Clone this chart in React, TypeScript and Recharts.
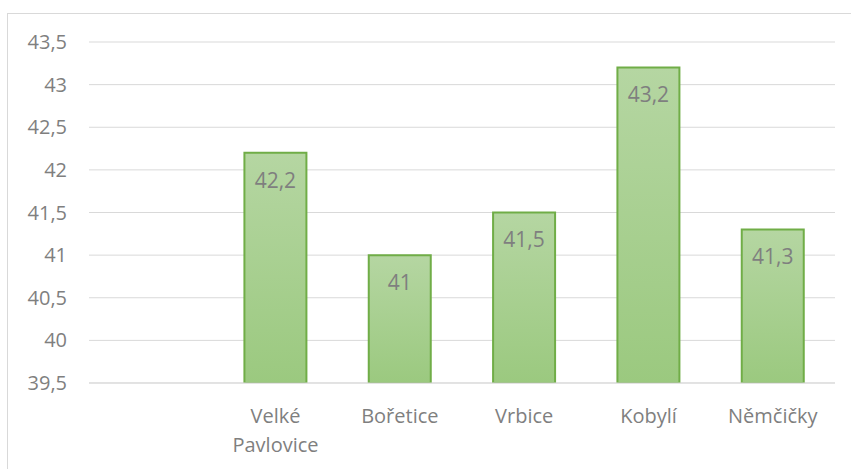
import React from 'react';
import { BarChart, Bar, XAxis, YAxis, CartesianGrid, LabelList } from 'recharts';

const categories = ['', 'Velké Pavlovice', 'Bořetice', 'Vrbice', 'Kobylí', 'Němčičky'];
const values: (number | null)[] = [null, 42.2, 41, 41.5, 43.2, 41.3];
const yTicks = [39.5, 40, 40.5, 41, 41.5, 42, 42.5, 43, 43.5];

const data = categories.map((name, i) => ({ name, value: values[i] }));

const FONT = '"Open Sans", Lato, sans-serif';
const TEXT = '#7f7f7f';

const fmt = (v: number) => String(v).replace('.', ',');

// category labels wrap on the space like in the original
const CategoryTick = ({ x, y, payload }: any) => {
  const lines = String(payload.value).split(' ');
  return (
    <text x={x} y={y} textAnchor="middle" fill={TEXT} fontFamily={FONT} fontSize={20}>
      {lines.map((line, i) => (
        <tspan key={i} x={x} dy={i === 0 ? 32 : 29}>
          {line}
        </tspan>
      ))}
    </text>
  );
};

export default function App() {
  return (
    <div style={{ position: 'absolute', left: 0, top: 0, width: 851, height: 469, background: '#fff', overflow: 'hidden' }}>
      <div
        style={{
          position: 'absolute',
          left: 7,
          top: 13,
          width: 900,
          height: 500,
          border: '1px solid #d9d9d9',
        }}
      />
      <BarChart
        width={851}
        height={469}
        data={data}
        margin={{ top: 42, right: 16, bottom: 0, left: 0 }}
        barCategoryGap="25%"
        style={{ position: 'absolute', left: 0, top: 0 }}
      >
        <defs>
          <linearGradient id="barFill" x1="0" y1="0" x2="0" y2="1">
            <stop offset="0%" stopColor="#b5d6a2" />
            <stop offset="100%" stopColor="#9bc97f" />
          </linearGradient>
        </defs>
        <CartesianGrid vertical={false} stroke="#d9d9d9" strokeWidth={1} />
        <XAxis
          dataKey="name"
          axisLine={{ stroke: '#d9d9d9' }}
          tickLine={false}
          height={86}
          interval={0}
          tick={<CategoryTick />}
        />
        <YAxis
          domain={[39.5, 43.5]}
          ticks={yTicks}
          allowDataOverflow
          axisLine={false}
          tickLine={false}
          tickSize={0}
          tickMargin={22}
          width={89}
          tickFormatter={fmt}
          tick={{ fill: TEXT, fontFamily: FONT, fontSize: 20 }}
        />
        <Bar dataKey="value" fill="url(#barFill)" stroke="#70ad47" strokeWidth={2} isAnimationActive={false}>
          <LabelList
            dataKey="value"
            position="insideTop"
            offset={20}
            formatter={(v: any) => (v == null ? '' : fmt(v))}
            fill={TEXT}
            fontFamily={FONT}
            fontSize={21}
          />
        </Bar>
      </BarChart>
    </div>
  );
}
